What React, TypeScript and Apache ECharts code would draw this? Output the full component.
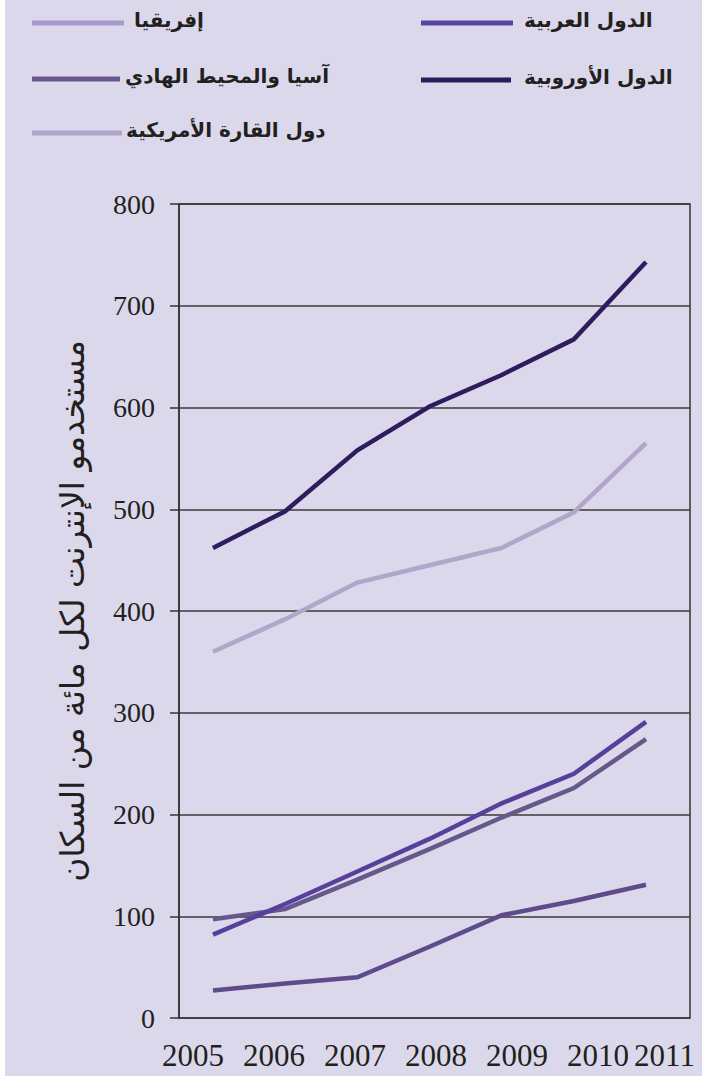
import React, { useEffect, useRef } from "react";
import * as echarts from "echarts";

const years = [2005, 2006, 2007, 2008, 2009, 2010, 2011];
const yearLabels = ["2005", "2006", "2007", "2008", "2009", "2010", "2011"];

const europe = [462, 498, 558, 601, 632, 667, 743];
const americas = [360, 392, 428, 445, 462, 497, 565];
const arab = [82, 112, 144, 176, 211, 240, 291];
const asiaPacific = [97, 107, 136, 166, 197, 226, 274];
const africa = [27, 34, 40, 70, 101, 115, 131];

const yMin = 0;
const yMax = 800;
const yInterval = 100;

const yTitle = "مستخدمو الإنترنت لكل مائة من السكان";

const legendNames = [
  "إفريقيا",
  "آسيا والمحيط الهادي",
  "دول القارة الأمريكية",
  "الدول العربية",
  "الدول الأوروبية",
];
const legendColors = ["#a898cc", "#6a5690", "#b0a5c8", "#5a43a0", "#2e1a5e"];

const BG = "#dcd8eb";
const INK = "#231f20";
const SERIF = "Liberation Serif";

export default function App() {
  const ref = useRef<HTMLDivElement>(null);

  useEffect(() => {
    if (!ref.current) return;
    const chart = echarts.init(ref.current, null, { renderer: "svg" });

    const pair = (vals: number[]) => years.map((y, i) => [y, vals[i]]);

    const seriesDefs = [
      { name: "americas", data: americas, color: "#b1a6c9" },
      { name: "europe", data: europe, color: "#2f1c5e" },
      { name: "africa", data: africa, color: "#5e4b8c" },
      { name: "asia", data: asiaPacific, color: "#665889" },
      { name: "arab", data: arab, color: "#573f9c" },
    ];

    const legendLayout = [
      { x1: 32, x2: 124, y: 23, tx: 134 },
      { x1: 32, x2: 120, y: 79, tx: 125 },
      { x1: 32, x2: 122, y: 133, tx: 126 },
      { x1: 421, x2: 513, y: 23, tx: 524 },
      { x1: 421, x2: 511, y: 80, tx: 524 },
    ];
    const legendGraphics: any[] = [];
    legendNames.forEach((name, i) => {
      const l = legendLayout[i];
      legendGraphics.push({
        type: "line",
        shape: { x1: l.x1, y1: l.y, x2: l.x2, y2: l.y },
        style: { stroke: legendColors[i], lineWidth: 5 },
      });
      legendGraphics.push({
        type: "text",
        x: l.tx,
        y: l.y - 3,
        style: {
          text: name,
          fill: INK,
          fontFamily: "DejaVu Sans",
          fontWeight: "bold",
          fontSize: 20,
          align: "left",
          verticalAlign: "middle",
        },
      });
    });

    const option: any = {
      animation: false,
      backgroundColor: BG,
      graphic: [
        {
          type: "rect",
          shape: { x: 0, y: 0, width: 5, height: 1076 },
          style: { fill: "#ffffff" },
        },
        ...legendGraphics,
      ],
      grid: [
        {
          left: 179,
          right: 12,
          top: 204,
          bottom: 58,
          show: true,
          borderColor: "#333333",
          borderWidth: 1.5,
          backgroundColor: "transparent",
        },
        {
          left: 193,
          width: 486,
          top: 204,
          bottom: 58,
        },
      ],
      xAxis: [
        {
          type: "value",
          gridIndex: 0,
          min: 2004.529,
          max: 2011.61,
          show: false,
        },
        {
          type: "category",
          gridIndex: 1,
          data: yearLabels,
          boundaryGap: false,
          axisLine: { show: false },
          axisTick: { show: false },
          splitLine: { show: false },
          axisLabel: {
            interval: 0,
            margin: 22,
            color: INK,
            fontFamily: SERIF,
            fontSize: 31,
            formatter: (v: string, i: number) =>
              i === yearLabels.length - 1 ? `{last|${v}}` : v,
            rich: {
              last: {
                padding: [0, 29, 0, 0],
                color: INK,
                fontFamily: SERIF,
                fontSize: 31,
              },
            },
          },
        },
      ],
      yAxis: [
        {
          type: "value",
          gridIndex: 0,
          min: yMin,
          max: yMax,
          interval: yInterval,
          name: yTitle,
          nameLocation: "middle",
          nameRotate: 90,
          nameGap: 90,
          nameTextStyle: {
            fontFamily: "DejaVu Sans",
            fontSize: 33,
            color: INK,
          },
          axisLine: { show: true, lineStyle: { color: "#333333", width: 1.5 } },
          axisTick: {
            show: true,
            inside: false,
            length: 9,
            lineStyle: { color: "#333333", width: 1.5 },
          },
          splitLine: { show: true, lineStyle: { color: "#3a3a3a", width: 1.5 } },
          axisLabel: {
            margin: 24,
            color: INK,
            fontFamily: SERIF,
            fontSize: 28,
          },
        },
        { type: "value", gridIndex: 1, show: false },
      ],
      series: seriesDefs.map((s) => ({
        type: "line",
        name: s.name,
        xAxisIndex: 0,
        yAxisIndex: 0,
        data: pair(s.data),
        showSymbol: false,
        symbol: "none",
        lineStyle: { color: s.color, width: 4.5, cap: "butt", join: "miter" },
        itemStyle: { color: s.color },
      })),
    };

    chart.setOption(option);
    return () => chart.dispose();
  }, []);

  return (
    <div
      ref={ref}
      style={{ position: "absolute", left: 0, top: 0, width: 702, height: 1076 }}
    />
  );
}
